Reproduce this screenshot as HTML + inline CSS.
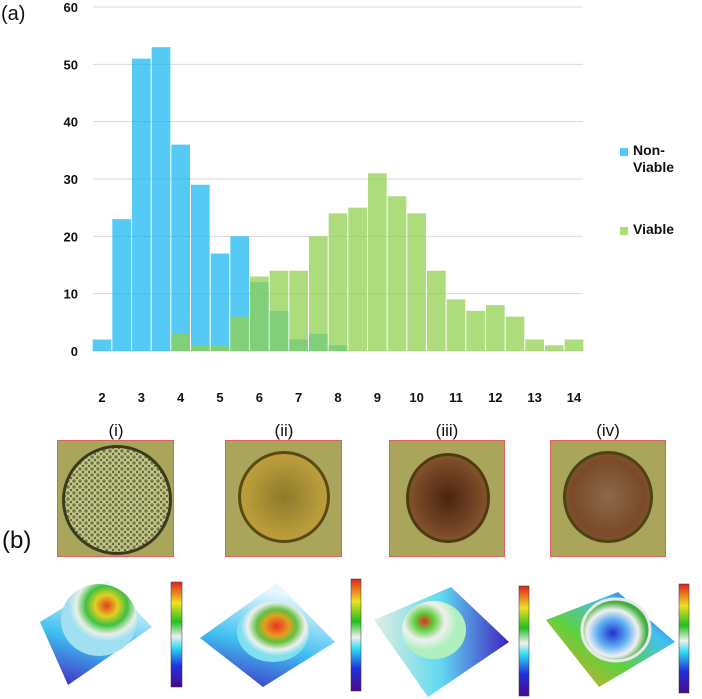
<!DOCTYPE html>
<html><head><meta charset="utf-8"><style>
body{margin:0;background:#fff;width:702px;height:699px;overflow:hidden;position:relative;font-family:"Liberation Sans",sans-serif}
.lbl{position:absolute;font-size:18px;color:#111}
.cap{position:absolute;font-size:15px;color:#111;text-align:center;width:60px}
.photo{position:absolute;border:1px solid #e06060;box-sizing:border-box;background:#a9a65c;overflow:hidden}
</style></head><body>
<div class="lbl" style="left:1px;top:3px;font-size:20px">(a)</div>
<svg id="chart" width="702" height="420" style="position:absolute;left:0;top:0"></svg>
<script>
const bins=[2,2.5,3,3.5,4,4.5,5,5.5,6,6.5,7,7.5,8,8.5,9,9.5,10,10.5,11,11.5,12,12.5,13,13.5,14];
const nonViable=[2,23,51,53,36,29,17,20,12,7,2,3,1,0,0,0,0,0,0,0,0,0,0,0,0];
const viable=[0,0,0,0,3,1,1,6,13,14,14,20,24,25,31,27,24,14,9,7,8,6,2,1,2];
const yTicks=[0,10,20,30,40,50,60];
const xTicks=[2,3,4,5,6,7,8,9,10,11,12,13,14];
const NS="http://www.w3.org/2000/svg";
const svg=document.getElementById('chart');
const X=v=>102+(v-2)*39.33, Y=v=>351-v*5.733, BW=19.66;
function mk(t,a){const e=document.createElementNS(NS,t);for(const k in a)e.setAttribute(k,a[k]);svg.appendChild(e);return e;}
yTicks.forEach(t=>{
  const l=mk('line',{x1:93,x2:583,y1:Y(t),y2:Y(t),stroke:'#d9d9d9','stroke-width':1});
  
  
  const tx=mk('text',{x:78,y:Y(t)+5,'text-anchor':'end','font-size':13,'font-weight':'bold',fill:'#111','font-family':'Liberation Sans'});
  tx.textContent=t;
  
  
});
xTicks.forEach(t=>{
  const tx=mk('text',{x:X(t),y:402,'text-anchor':'middle','font-size':13,'font-weight':'bold',fill:'#111','font-family':'Liberation Sans'});
  tx.textContent=t;
  
  
});
bins.forEach((b,i)=>{if(nonViable[i]>0){
  const r=mk('rect',{x:X(b)-BW/2+0.5,y:Y(nonViable[i]),width:BW-1,height:Y(0)-Y(nonViable[i]),fill:'rgba(0,176,240,0.67)'});
  
  
}});
bins.forEach((b,i)=>{if(viable[i]>0){
  const r=mk('rect',{x:X(b)-BW/2+0.5,y:Y(viable[i]),width:BW-1,height:Y(0)-Y(viable[i]),fill:'rgba(146,208,80,0.75)'});
  
  
}});
</script>
<div style="position:absolute;left:620px;top:146px">
<div style="position:absolute;left:0;top:2px;width:8px;height:8px;background:#56c8f4"></div>
<div style="position:absolute;left:13px;top:-4px;font-size:14px;font-weight:bold;line-height:17px;color:#111">Non-<br>Viable</div></div>
<div style="position:absolute;left:620px;top:225px">
<div style="position:absolute;left:0;top:2px;width:8px;height:8px;background:#b0da7c"></div>
<div style="position:absolute;left:13px;top:-4px;font-size:14px;font-weight:bold;line-height:17px;color:#111">Viable</div></div>

<div class="lbl" style="left:2px;top:527px;font-size:24px">(b)</div>
<div class="cap" style="left:86px;top:421px;font-size:17px">(i)</div>
<div class="cap" style="left:254px;top:421px;font-size:17px">(ii)</div>
<div class="cap" style="left:417px;top:421px;font-size:17px">(iii)</div>
<div class="cap" style="left:578px;top:421px;font-size:17px">(iv)</div>

<div class="photo" style="left:57px;top:440px;width:117px;height:117px">
<div style="position:absolute;left:4px;top:4px;width:110px;height:110px;border-radius:50%;border:3px solid #3c3a1c;box-sizing:border-box;background:radial-gradient(circle,#6f7a4a 0 1.5px,#c9c98a 2px 3px,#4e5430 3.5px) 0 0/6px 6px"></div></div>
<div class="photo" style="left:225px;top:440px;width:117px;height:117px">
<div style="position:absolute;left:12px;top:10px;width:92px;height:92px;border-radius:50%;border:3px solid #5a4a12;box-sizing:border-box;background:radial-gradient(ellipse,#8d7a2a,#b79a3a 60%,#c9a640)"></div></div>
<div class="photo" style="left:389px;top:440px;width:116px;height:117px">
<div style="position:absolute;left:16px;top:12px;width:84px;height:90px;border-radius:50%;border:3px solid #4d3c10;box-sizing:border-box;background:radial-gradient(ellipse,#4a2410,#7a4a28 60%,#a06a38)"></div></div>
<div class="photo" style="left:550px;top:440px;width:116px;height:117px">
<div style="position:absolute;left:12px;top:10px;width:90px;height:92px;border-radius:50%;border:3px solid #4d4410;box-sizing:border-box;background:radial-gradient(ellipse,#8a6a4a,#7a4a2a 60%,#8a6030)"></div></div>

<svg width="702" height="699" style="position:absolute;left:0;top:0">
<defs>
<linearGradient id="cb" x1="0" y1="1" x2="0" y2="0"><stop offset="0" stop-color="#4b0a8a"/><stop offset=".2" stop-color="#2030e0"/><stop offset=".38" stop-color="#30e0f0"/><stop offset=".48" stop-color="#f0f0f0"/><stop offset=".62" stop-color="#20c020"/><stop offset=".8" stop-color="#f0e020"/><stop offset="1" stop-color="#e02020"/></linearGradient>
<linearGradient id="p1" x1="0" y1="1" x2=".3" y2="0"><stop offset="0" stop-color="#4020c0"/><stop offset=".5" stop-color="#40c0f0"/><stop offset="1" stop-color="#e8f8ff"/></linearGradient>
<linearGradient id="p3" x1="0" y1="0" x2="1" y2="0"><stop offset="0" stop-color="#e0f0e0"/><stop offset=".5" stop-color="#60d8f0"/><stop offset="1" stop-color="#4020c0"/></linearGradient>
<linearGradient id="p4" x1="0" y1="1" x2="1" y2="0"><stop offset="0" stop-color="#f0a020"/><stop offset=".4" stop-color="#60d040"/><stop offset=".7" stop-color="#40c0f0"/><stop offset="1" stop-color="#4020c0"/></linearGradient>
<radialGradient id="d1" cx=".6" cy=".3"><stop offset="0" stop-color="#e04020"/><stop offset=".3" stop-color="#e0d020"/><stop offset=".55" stop-color="#40c040"/><stop offset=".8" stop-color="#e8f0e8"/><stop offset="1" stop-color="#a0e0f0"/></radialGradient>
<radialGradient id="d2" cx=".55" cy=".4"><stop offset="0" stop-color="#f03020"/><stop offset=".35" stop-color="#e0a020"/><stop offset=".55" stop-color="#60c040"/><stop offset=".8" stop-color="#f0f0f0"/><stop offset="1" stop-color="#80e0f0"/></radialGradient>
<radialGradient id="d3" cx=".35" cy=".35"><stop offset="0" stop-color="#e03020"/><stop offset=".3" stop-color="#60d040"/><stop offset=".65" stop-color="#f0f0f0"/><stop offset="1" stop-color="#b0f0c0"/></radialGradient>
<radialGradient id="d4" cx=".45" cy=".55"><stop offset="0" stop-color="#2030d0"/><stop offset=".45" stop-color="#60b0f0"/><stop offset=".75" stop-color="#f0f0f0"/><stop offset="1" stop-color="#40b040"/></radialGradient>
</defs>
<polygon points="40,622 108,580 152,627 68,685" fill="url(#p1)"/>
<ellipse cx="99" cy="620" rx="38" ry="36" fill="url(#d1)"/>
<polygon points="200,638 277,583 335,642 263,687" fill="url(#p1)"/>
<ellipse cx="273" cy="632" rx="36" ry="30" fill="url(#d2)"/>
<polygon points="374,620 451,587 509,642 428,697" fill="url(#p3)"/>
<ellipse cx="434" cy="630" rx="32" ry="29" fill="url(#d3)"/>
<polygon points="546,620 618,592 675,642 599,687" fill="url(#p4)"/>
<ellipse cx="616" cy="630" rx="34" ry="31" fill="url(#d4)" stroke="#e8e8e8" stroke-width="3"/>
<rect x="171" y="582" width="11" height="105" fill="url(#cb)" stroke="#333" stroke-width=".5"/>
<rect x="351" y="579" width="10" height="112" fill="url(#cb)" stroke="#333" stroke-width=".5"/>
<rect x="519" y="586" width="10" height="110" fill="url(#cb)" stroke="#333" stroke-width=".5"/>
<rect x="679" y="584" width="10" height="109" fill="url(#cb)" stroke="#333" stroke-width=".5"/>
</svg>
</body></html>
